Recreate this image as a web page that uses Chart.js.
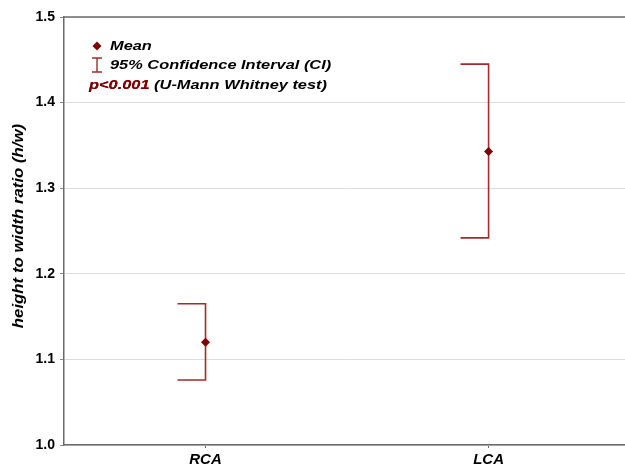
<!DOCTYPE html>
<html><head><meta charset="utf-8">
<script src="https://cdn.jsdelivr.net/npm/chart.js@4/dist/chart.umd.min.js"></script>
<style>html,body{margin:0;padding:0;background:#fff}#wrap{width:625px;height:469px}</style>
</head><body><div id="wrap"><canvas id="c" width="625" height="469"></canvas></div>
<script>
const categories = ['RCA', 'LCA'];
const means = [1.120, 1.343];
const ciLower = [1.076, 1.242];
const ciUpper = [1.165, 1.445];
const yTicks = [1.0, 1.1, 1.2, 1.3, 1.4, 1.5];

const FONT = 'Arial, "Liberation Sans", sans-serif';
const DARK = '#7f0000';
const BAR = '#a32a2e';

function stretchText(ctx, text, x, y, sx) {
  ctx.save();
  ctx.translate(x, y); ctx.scale(sx, 1);
  ctx.fillText(text, 0, 0);
  ctx.restore();
  return ctx.measureText(text).width * sx;
}

const errorBars = {
  id: 'errorBars',
  beforeDatasetsDraw(chart) {
    const ctx = chart.ctx, xs = chart.scales.x, ys = chart.scales.y;
    ctx.save();
    ctx.strokeStyle = BAR; ctx.lineWidth = 1.6;
    categories.forEach((c, i) => {
      const x = xs.getPixelForValue(i);
      const yu = ys.getPixelForValue(ciUpper[i]);
      const yl = ys.getPixelForValue(ciLower[i]);
      ctx.beginPath();
      ctx.moveTo(x - 28, yu); ctx.lineTo(x, yu); ctx.lineTo(x, yl); ctx.lineTo(x - 28, yl);
      ctx.stroke();
    });
    ctx.restore();
  },
  afterDraw(chart) {
    const ctx = chart.ctx, a = chart.chartArea;
    ctx.save();
    // top border
    ctx.strokeStyle = '#6b6b6b'; ctx.lineWidth = 1.5;
    ctx.beginPath(); ctx.moveTo(a.left, a.top); ctx.lineTo(625, a.top); ctx.stroke();
    // y-axis title
    ctx.save();
    ctx.translate(19, 226); ctx.rotate(-Math.PI / 2); ctx.scale(1.2, 1);
    ctx.fillStyle = '#000'; ctx.font = 'italic bold 14px ' + FONT;
    ctx.textAlign = 'center'; ctx.textBaseline = 'middle';
    ctx.fillText('height to width ratio (h/w)', 0, 0);
    ctx.restore();
    // legend
    ctx.fillStyle = DARK;
    ctx.beginPath();
    ctx.moveTo(97, 41.5); ctx.lineTo(101.5, 46); ctx.lineTo(97, 50.5); ctx.lineTo(92.5, 46); ctx.closePath(); ctx.fill();
    ctx.strokeStyle = BAR; ctx.lineWidth = 1.4;
    ctx.beginPath();
    ctx.moveTo(92, 58); ctx.lineTo(102, 58);
    ctx.moveTo(97, 58); ctx.lineTo(97, 72);
    ctx.moveTo(92, 72); ctx.lineTo(102, 72);
    ctx.stroke();
    ctx.font = 'italic bold 13px ' + FONT; ctx.textBaseline = 'middle'; ctx.textAlign = 'left';
    const sx = 1.26;
    ctx.fillStyle = '#000';
    stretchText(ctx, 'Mean', 110, 46, sx);
    stretchText(ctx, '95% Confidence Interval (CI)', 110, 65, sx);
    ctx.fillStyle = DARK;
    const w = stretchText(ctx, 'p<0.001 ', 89, 85, sx);
    ctx.fillStyle = DARK;
    stretchText(ctx, 'p<0.001', 89, 85, sx);
    ctx.fillStyle = '#000';
    stretchText(ctx, '(U-Mann Whitney test)', 89 + w, 85, sx);
    ctx.restore();
  }
};

new Chart(document.getElementById('c'), {
  type: 'line',
  data: {
    datasets: [{
      data: means.map((m, i) => ({ x: i, y: m })), showLine: false,
      pointStyle: 'rectRot', pointRadius: 4.5, pointHoverRadius: 4.5,
      backgroundColor: DARK, borderColor: DARK, borderWidth: 0
    }]
  },
  options: {
    responsive: false, animation: false,
    layout: { autoPadding: false, padding: { top: 17, right: 0, left: 0, bottom: 0 } },
    plugins: { legend: { display: false }, tooltip: { enabled: false } },
    scales: {
      x: {
        type: 'linear', min: -0.5, max: 1.482,
        afterBuildTicks(s) { s.ticks = categories.map((c, i) => ({ value: i })); },
        grid: { display: true, drawOnChartArea: false, tickLength: 3, color: '#6b6b6b' },
        border: { display: true, color: '#6b6b6b', width: 1.5 },
        ticks: { color: '#000', padding: 3, callback: v => categories[v] ?? '', font: { family: FONT, size: 15, weight: 'bold', style: 'italic' } },
        afterFit(s) { s.height = 24; }
      },
      y: {
        min: 1.0, max: 1.5,
        afterBuildTicks(s) { s.ticks = yTicks.map(v => ({ value: v })); },
        grid: { color: '#dcdcdc', lineWidth: 1, tickLength: 4, tickColor: '#8a8a8a' },
        border: { display: true, color: '#6b6b6b', width: 1.5 },
        ticks: { color: '#000', padding: 5, callback: v => Number(v).toFixed(1), font: { family: FONT, size: 14, weight: 'bold' } },
        afterFit(s) { s.width = 64; }
      }
    }
  },
  plugins: [errorBars]
});
</script></body></html>
